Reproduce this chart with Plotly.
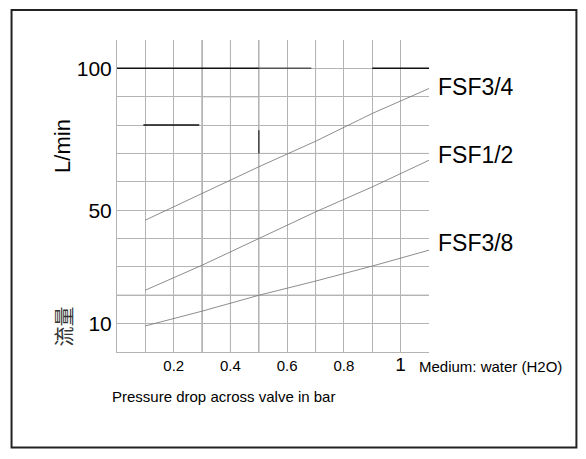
import plotly.graph_objects as go

# ---- data ----
pressure = [0.1, 0.3, 0.5, 0.7, 0.9, 1.1]
fsf34 = [46.5, 55.9, 65.3, 74.3, 84.1, 92.9]
fsf12 = [21.8, 30.6, 40.0, 49.4, 58.2, 67.6]
fsf38 = [9.2, 14.4, 20.0, 25.0, 30.3, 35.9]
series_names = ["FSF3/4", "FSF1/2", "FSF3/8"]

x_ticks = [0.0, 0.1, 0.2, 0.3, 0.4, 0.5, 0.6, 0.7, 0.8, 0.9, 1.0, 1.1]
x_ticktext = ["", "", "0.2", "", "0.4", "", "0.6", "", "0.8", "", "<span style='font-size:19px'>1</span>", ""]
y_ticks = [0, 10, 20, 30, 40, 50, 60, 70, 80, 90, 100]
y_ticktext = ["", "10", "", "", "", "50", "", "", "", "", "100"]

FONT = "Liberation Sans, Arial, sans-serif"
GRID = "#b4b4b4"
CURVE = "#707070"

fig = go.Figure()
for name, vals in zip(series_names, [fsf34, fsf12, fsf38]):
    fig.add_trace(go.Scatter(x=pressure, y=vals, mode="lines", name=name,
                             line=dict(color=CURVE, width=0.8), showlegend=False,
                             hoverinfo="skip"))

# curve labels at right
label_y = [93.4, 69.4, 38.3]
for name, yv in zip(series_names, label_y):
    fig.add_annotation(x=1.022, xref="paper", y=yv, yref="y", text=name,
                       showarrow=False, xanchor="left", yanchor="middle",
                       font=dict(family=FONT, size=23, color="#000"))

# axis titles / notes
fig.add_annotation(x=-0.175, xref="paper", y=72.8, yref="y", text="L/min", textangle=-90,
                   showarrow=False, xanchor="center", yanchor="middle",
                   font=dict(family=FONT, size=22, color="#000"))
fig.add_annotation(x=-0.173, xref="paper", y=9.0, yref="y", text="流量", textangle=-90,
                   showarrow=False, xanchor="center", yanchor="middle",
                   font=dict(family="Noto Sans CJK SC", size=20, color="#333"))
fig.add_annotation(x=0.963, xref="paper", y=-0.046, yref="paper", text="Medium: water (H2O)",
                   showarrow=False, xanchor="left", yanchor="middle",
                   font=dict(family=FONT, size=15, color="#000"))
fig.add_annotation(x=-0.021, xref="paper", y=-0.142, yref="paper",
                   text="Pressure drop across valve in bar",
                   showarrow=False, xanchor="left", yanchor="middle",
                   font=dict(family=FONT, size=15, color="#000"))

# darker grid lines (scan artefacts of the original)
dark = "#7a7a7a"
for xv in [0.3, 0.4, 0.5, 0.7]:
    fig.add_shape(type="line", x0=xv, x1=xv, y0=0, y1=110, xref="x", yref="y",
                  line=dict(color=dark, width=1), layer="below")
fig.add_shape(type="line", x0=0, x1=1.1, y0=20, y1=20, line=dict(color=dark, width=1), layer="below")
fig.add_shape(type="line", x0=0.5, x1=1.1, y0=70, y1=70, line=dict(color=dark, width=1), layer="below")
fig.add_shape(type="line", x0=0.3, x1=0.5, y0=90, y1=90, line=dict(color="#8a8a8a", width=1), layer="below")
fig.add_shape(type="line", x0=-0.015, x1=0.5, y0=100, y1=100, line=dict(color="#111", width=1.5))
fig.add_shape(type="line", x0=0.5, x1=0.685, y0=100, y1=100, line=dict(color="#555", width=1.5))
fig.add_shape(type="line", x0=0.9, x1=1.1, y0=100, y1=100, line=dict(color="#111", width=1.5))
fig.add_shape(type="line", x0=0.093, x1=0.29, y0=80, y1=80, line=dict(color="#111", width=1.5))
fig.add_shape(type="line", x0=0.5, x1=0.5, y0=70, y1=78.2, line=dict(color="#444", width=1.5))

# outer frame
fig.add_shape(type="rect", xref="paper", yref="paper", x0=-0.338, x1=1.4725, y0=-0.3057, y1=1.0965,
              line=dict(color="#222", width=2))

fig.update_xaxes(range=[0, 1.1], tickmode="array", tickvals=x_ticks, ticktext=x_ticktext,
                 showgrid=True, gridcolor=GRID, gridwidth=1, zeroline=False,
                 showline=True, linecolor=GRID, linewidth=1, ticks="",
                 tickfont=dict(family=FONT, size=15, color="#000"), fixedrange=True)
fig.update_yaxes(range=[0, 110], tickmode="array", tickvals=y_ticks, ticktext=y_ticktext,
                 showgrid=True, gridcolor=GRID, gridwidth=1, zeroline=False,
                 showline=True, linecolor=GRID, linewidth=1, ticks="",
                 tickfont=dict(family=FONT, size=21, color="#000"), fixedrange=True)

# page body has an 8px margin, so the figure is offset by 8px
fig.update_layout(width=578, height=451, autosize=False,
                  margin=dict(l=108.7, r=156.7, t=32, b=107.3),
                  paper_bgcolor="white", plot_bgcolor="white")

fig.write_html("out.html", config={"displayModeBar": False})
